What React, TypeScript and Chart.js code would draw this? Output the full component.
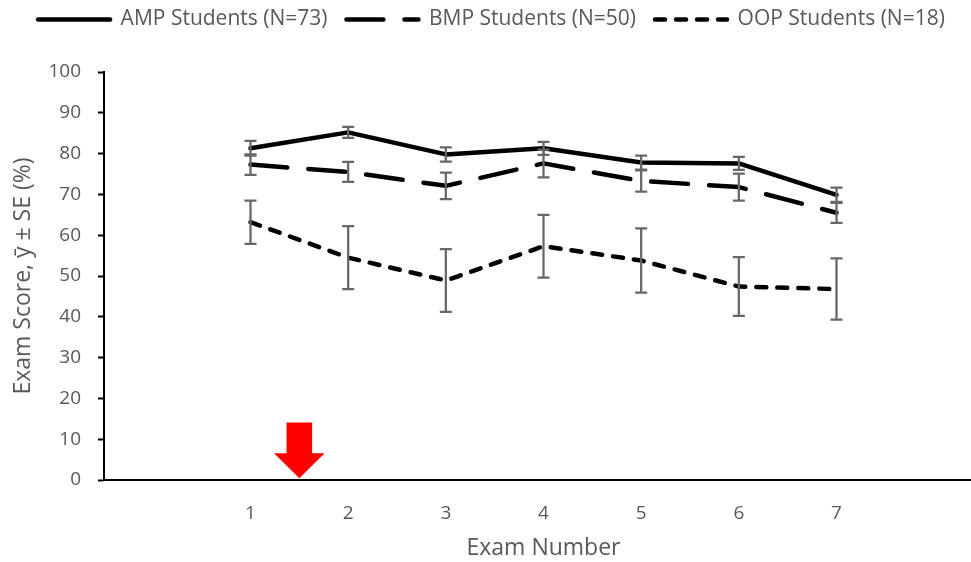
import React, { useEffect, useRef } from 'react';
import { Chart, registerables } from 'chart.js';

Chart.register(...registerables);

// ---- Data ----
const EXAMS = [1, 2, 3, 4, 5, 6, 7];
const SERIES_NAMES = ['AMP Students (N=73)', 'BMP Students (N=50)', 'OOP Students (N=18)'];
const AMP_MEAN = [81.3, 85.2, 79.8, 81.3, 77.8, 77.6, 69.9];
const AMP_SE = [1.8, 1.35, 1.75, 1.6, 1.7, 1.6, 1.75];
const BMP_MEAN = [77.3, 75.5, 72.1, 77.6, 73.3, 71.8, 65.5];
const BMP_SE = [2.5, 2.45, 3.25, 3.4, 2.6, 3.3, 2.45];
const OOP_MEAN = [63.2, 54.5, 48.9, 57.3, 53.8, 47.4, 46.8];
const OOP_SE = [5.3, 7.7, 7.7, 7.7, 7.9, 7.2, 7.5];
const Y_MIN = 0;
const Y_MAX = 100;
const Y_STEP = 10;
const X_MIN = -0.5;
const X_MAX = 8.5;
const X_TITLE = 'Exam Number';
const Y_TITLE = 'Exam Score, ȳ ± SE (%)';
// red arrow marker (exam position, top value, tip value)
const ARROW_EXAM = 1.5;
const ARROW_TOP = 14.1;
const ARROW_TIP = 0.4;

const MEANS = [AMP_MEAN, BMP_MEAN, OOP_MEAN];
const SES = [AMP_SE, BMP_SE, OOP_SE];
const DASHES: number[][] = [[], [37, 21], [10, 11]];

const FONT = "'Open Sans', 'DejaVu Sans', sans-serif";
const TEXT = '#595959';

const errorBarPlugin = {
  id: 'errorBars',
  afterDatasetsDraw(chart: any) {
    const { ctx, scales } = chart;
    const xs = scales.x;
    const ys = scales.y;
    ctx.save();
    ctx.strokeStyle = '#676767';
    ctx.lineWidth = 2.25;
    ctx.lineCap = 'butt';
    ctx.setLineDash([]);
    MEANS.forEach((means, i) => {
      means.forEach((m, j) => {
        const se = SES[i][j];
        const x = xs.getPixelForValue(EXAMS[j]);
        const yTop = ys.getPixelForValue(m + se);
        const yBot = ys.getPixelForValue(m - se);
        const hw = 6;
        ctx.beginPath();
        ctx.moveTo(x, yTop);
        ctx.lineTo(x, yBot);
        ctx.moveTo(x - hw, yTop);
        ctx.lineTo(x + hw, yTop);
        ctx.moveTo(x - hw, yBot);
        ctx.lineTo(x + hw, yBot);
        ctx.stroke();
      });
    });
    ctx.restore();
  },
};

const arrowPlugin = {
  id: 'redArrow',
  afterDraw(chart: any) {
    const { ctx, scales } = chart;
    const cx = scales.x.getPixelForValue(ARROW_EXAM);
    const top = scales.y.getPixelForValue(ARROW_TOP);
    const tip = scales.y.getPixelForValue(ARROW_TIP);
    const shaftHalf = 12.8;
    const headHalf = 25.3;
    const headLen = 25;
    ctx.save();
    ctx.fillStyle = '#ff0000';
    ctx.beginPath();
    ctx.moveTo(cx - shaftHalf, top);
    ctx.lineTo(cx + shaftHalf, top);
    ctx.lineTo(cx + shaftHalf, tip - headLen);
    ctx.lineTo(cx + headHalf, tip - headLen);
    ctx.lineTo(cx, tip);
    ctx.lineTo(cx - headHalf, tip - headLen);
    ctx.lineTo(cx - shaftHalf, tip - headLen);
    ctx.closePath();
    ctx.fill();
    ctx.restore();
  },
};

export default function App() {
  const canvasRef = useRef<HTMLCanvasElement | null>(null);

  useEffect(() => {
    if (!canvasRef.current) return;
    const datasets = MEANS.map((means, i) => ({
      label: SERIES_NAMES[i],
      data: means.map((v, j) => ({ x: EXAMS[j], y: v })),
      borderColor: '#000000',
      backgroundColor: '#000000',
      borderWidth: 4.5,
      borderDash: DASHES[i],
      borderCapStyle: 'round' as const,
      borderJoinStyle: 'round' as const,
      pointRadius: 0,
      pointHoverRadius: 0,
      tension: 0,
      fill: false,
    }));

    const defaultLabels = (Chart.defaults as any).plugins.legend.labels.generateLabels;

    const chart = new Chart(canvasRef.current, {
      type: 'line',
      data: { datasets },
      options: {
        animation: false,
        responsive: false,
        devicePixelRatio: 1,
        events: [],
        layout: { padding: { top: -10, right: 5, left: 0, bottom: 0 } },
        plugins: {
          tooltip: { enabled: false },
          legend: {
            display: true,
            position: 'top',
            align: 'center',
            weight: 1000,
            labels: {
              usePointStyle: true,
              pointStyle: 'line',
              pointStyleWidth: 72,
              padding: 19,
              color: TEXT,
              font: { family: FONT, size: 21 },
              generateLabels: (c: any) =>
                defaultLabels(c).map((item: any, i: number) => ({
                  ...item,
                  lineDash: DASHES[i],
                  lineCap: 'round',
                  lineWidth: 4.5,
                  strokeStyle: '#000000',
                  fillStyle: '#000000',
                })),
            },
          } as any,
          title: {
            display: true,
            text: '',
            weight: 500,
            font: { size: 1, lineHeight: 1 },
            padding: { top: 31, bottom: 0 },
          } as any,
        },
        scales: {
          x: {
            type: 'linear',
            min: X_MIN,
            max: X_MAX,
            afterFit: (s: any) => {
              s.height = 82;
            },
            afterBuildTicks: (s: any) => {
              s.ticks = EXAMS.map((v) => ({ value: v }));
            },
            grid: { display: false },
            border: { display: true, color: '#000000', width: 2 },
            ticks: {
              color: TEXT,
              font: { family: FONT, size: 19 },
              padding: 14,
              maxRotation: 0,
              autoSkip: false,
              callback: (v: any) => String(v),
            },
            title: {
              display: true,
              text: X_TITLE,
              color: TEXT,
              font: { family: FONT, size: 23 },
              padding: { top: 0, bottom: 0 },
            },
          },
          y: {
            type: 'linear',
            min: Y_MIN,
            max: Y_MAX,
            afterFit: (s: any) => {
              s.width = 104;
            },
            grid: {
              display: true,
              drawOnChartArea: false,
              drawTicks: true,
              tickLength: 6,
              tickWidth: 2,
              tickColor: '#000000',
              color: '#000000',
            },
            border: { display: true, color: '#000000', width: 2 },
            ticks: {
              stepSize: Y_STEP,
              color: TEXT,
              font: { family: FONT, size: 19 },
              padding: 17,
            },
            title: {
              display: true,
              text: Y_TITLE,
              color: TEXT,
              font: { family: FONT, size: 23 },
              padding: { top: 10, bottom: 0 },
            },
          },
        },
      },
      plugins: [errorBarPlugin, arrowPlugin],
    });
    return () => chart.destroy();
  }, []);

  return (
    <div
      style={{
        position: 'fixed',
        left: 0,
        top: 0,
        width: 971,
        height: 562,
        overflow: 'hidden',
        background: '#ffffff',
      }}
    >
      <canvas ref={canvasRef} width={988} height={562} style={{ display: 'block' }} />
    </div>
  );
}
